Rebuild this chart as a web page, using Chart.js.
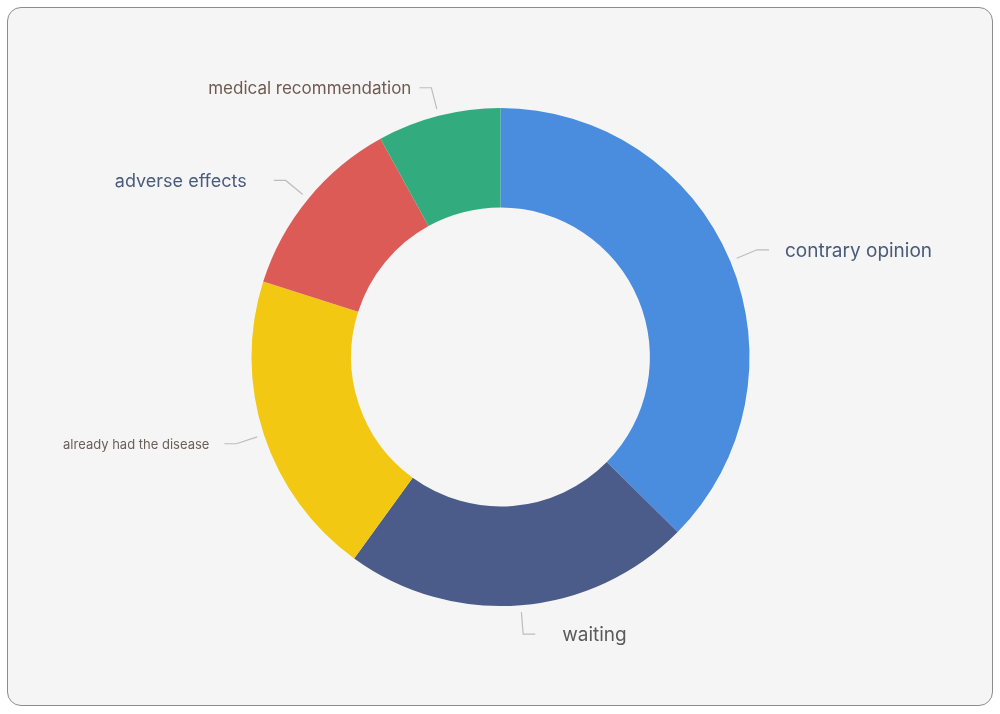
<!DOCTYPE html>
<html lang="en">
<head>
  <meta charset="UTF-8">
  <title>Reasons for not getting vaccinated</title>
  <style>
    * { box-sizing: border-box; }
    body { margin: 0; padding: 0; background: #ffffff; width: 1000px; height: 714px; overflow: hidden; }
    .panel {
      position: absolute;
      left: 7px; top: 7px;
      width: 986px; height: 699px;
      background-color: #f5f5f5;
      border: 1.5px solid #8c8c8c;
      border-radius: 14px;
    }
    .chart-box { position: absolute; left: 0; top: 0; width: 983px; height: 696px; }
  </style>
</head>
<body>

<div class="panel">
  <div class="chart-box">
    <canvas id="donut"></canvas>
  </div>
</div>

<script src="https://cdn.jsdelivr.net/npm/chart.js"></script>
<script>
  // data (percent shares, clockwise from 12 o'clock)
  const reasons = ['contrary opinion', 'waiting', 'already had the disease', 'adverse effects', 'medical recommendation'];
  const shares = [37.4, 22.6, 19.9, 12.1, 8.0];

  const sliceColors = ['#4a8dde', '#4b5c8a', '#f2c812', '#dc5b57', '#32ac7e'];
  const labelColors = ['#4a5a78', '#5a5a5a', '#6b5e58', '#4a5c7a', '#6e5a50'];
  const labelSizes = [19, 19, 13, 18, 17];
  const labelGaps = [16, 27, 15, 27, 8];

  // leader lines + labels drawn from each arc's own geometry
  const leaderLabels = {
    id: 'leaderLabels',
    afterDatasetsDraw(chart) {
      const ctx = chart.ctx;
      const arcs = chart.getDatasetMeta(0).data;
      arcs.forEach((arc, i) => {
        const mid = (arc.startAngle + arc.endAngle) / 2;
        const r = arc.outerRadius;
        const cos = Math.cos(mid), sin = Math.sin(mid);
        const x0 = arc.x + cos * (r + 7), y0 = arc.y + sin * (r + 7);
        const x1 = arc.x + cos * (r + 29), y1 = arc.y + sin * (r + 29);
        const right = cos >= 0;
        const x2 = x1 + (right ? 12 : -12);

        ctx.save();
        ctx.strokeStyle = '#bdbdbd';
        ctx.lineWidth = 1.2;
        ctx.beginPath();
        ctx.moveTo(x0, y0);
        ctx.lineTo(x1, y1);
        ctx.lineTo(x2, y1);
        ctx.stroke();

        ctx.font = labelSizes[i] + 'px "Inter", "Noto Sans", sans-serif';
        ctx.fillStyle = labelColors[i];
        ctx.textBaseline = 'middle';
        ctx.textAlign = right ? 'left' : 'right';
        ctx.fillText(reasons[i], x2 + (right ? labelGaps[i] : -labelGaps[i]), y1 + 1);
        ctx.restore();
      });
    }
  };

  new Chart(document.getElementById('donut'), {
    type: 'doughnut',
    data: {
      labels: reasons,
      datasets: [{
        data: shares,
        backgroundColor: sliceColors,
        borderWidth: 0
      }]
    },
    options: {
      responsive: true,
      maintainAspectRatio: false,
      animation: false,
      cutout: '60%',
      layout: { padding: { top: 100, bottom: 98, left: 2, right: 0 } },
      plugins: {
        legend: { display: false },
        tooltip: { enabled: false }
      }
    },
    plugins: [leaderLabels]
  });
</script>

</body>
</html>
